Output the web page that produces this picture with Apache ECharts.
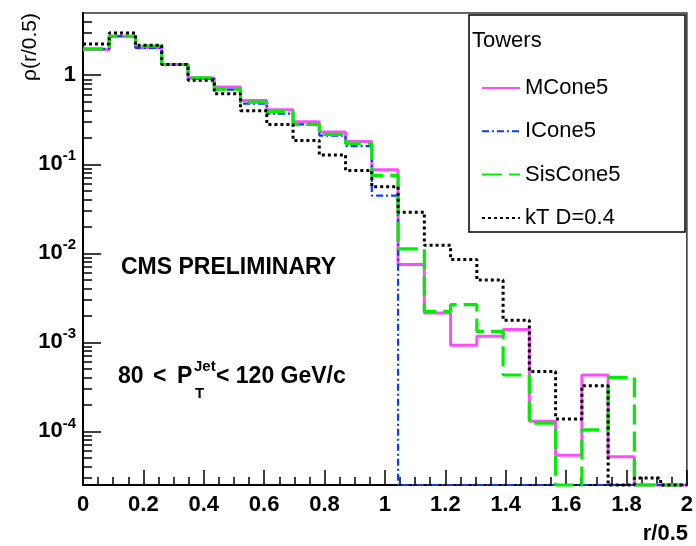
<!DOCTYPE html>
<html>
<head>
<meta charset="utf-8">
<script src="https://cdn.jsdelivr.net/npm/echarts@6/dist/echarts.min.js"></script>
<style>
html,body{margin:0;padding:0;background:#fff;}
#chart{width:696px;height:546px;}
</style>
</head>
<body>
<div id="chart"></div>
<script>
// ---- data (23 bins between r/0.5 = 0 and 2) ----
const xMin = 0, xMax = 2, binCount = 23;
const yMin = 2.5e-5, yMax = 5;
const seriesNames = ['MCone5', 'ICone5', 'SisCone5', 'kT D=0.4'];
const mcone5 = [1.95, 2.74, 2.03, 1.32, 0.93, 0.74, 0.52, 0.41, 0.30, 0.23, 0.18, 0.087, 0.0075, 0.00214, 0.00093, 0.00117, 0.00139, 0.00013, 0.000054, 0.00043, 0.000052, 0, 0];
const icone5 = [1.98, 2.74, 2.03, 1.32, 0.91, 0.69, 0.48, 0.37, 0.28, 0.21, 0.16, 0.0445, 0, 0, 0, 0, 0, 0, 0, 0, 0, 0, 0];
const siscone5 = [1.98, 2.74, 2.12, 1.32, 0.935, 0.70, 0.50, 0.39, 0.28, 0.217, 0.17, 0.075, 0.0112, 0.00223, 0.00265, 0.00133, 0.00043, 0.000124, 0, 0.000104, 0.000405, 0, 0];
const kt04 = [2.25, 2.99, 2.17, 1.32, 0.88, 0.62, 0.40, 0.28, 0.185, 0.127, 0.085, 0.056, 0.029, 0.0123, 0.0085, 0.005, 0.00177, 0.00047, 0.000138, 0.000325, 0, 0.00003, 0];
const yMajorTicks = [1e-4, 1e-3, 1e-2, 1e-1, 1];
const xTickInterval = 0.2;

// ---- build ----
const binWidth = (xMax - xMin) / binCount;
function histData(vals) {
  const d = vals.map((v, i) => [xMin + i * binWidth, v > 0 ? v : yMin]);
  const last = vals[vals.length - 1];
  d.push([xMax, last > 0 ? last : yMin]);
  return d;
}
const yMinorTicks = [];
for (let e = -5; e <= 0; e++) {
  for (let m = 2; m <= 9; m++) {
    const v = m * Math.pow(10, e);
    if (v > yMin && v < yMax) yMinorTicks.push(v);
  }
}

const FONT = 'Liberation Sans';
const chart = echarts.init(document.getElementById('chart'), null, {renderer: 'canvas'});

const styles = [
  {color: '#ff4cff', width: 3, type: 'solid'},
  {color: '#0a3cff', width: 2.2, type: [7, 3, 2, 3]},
  {color: '#00ee00', width: 3.2, type: [20, 7]},
  {color: '#000000', width: 3, type: [3, 3]}
];
const vals = [mcone5, icone5, siscone5, kt04];

const series = seriesNames.map((n, k) => ({
  name: n,
  type: 'line',
  step: 'end',
  data: histData(vals[k]),
  showSymbol: false,
  symbol: 'none',
  clip: false,
  lineStyle: styles[k],
  itemStyle: {color: styles[k].color},
  emphasis: {disabled: true},
  animation: false
}));

const B23 = 'bold 23px "Liberation Sans"';
const B15 = 'bold 15px "Liberation Sans"';

const option = {
  animation: false,
  backgroundColor: '#fff',
  grid: {left: 83, right: 8, top: 13, bottom: 61, show: true, borderColor: '#333', borderWidth: 1.5, backgroundColor: 'transparent'},
  xAxis: {
    type: 'value', min: xMin, max: xMax, interval: xTickInterval,
    axisLine: {show: true, lineStyle: {color: '#000', width: 2}},
    axisTick: {show: true, inside: true, length: 15, lineStyle: {color: '#000', width: 1.5}},
    minorTick: {show: true, splitNumber: 4, length: 8, lineStyle: {color: '#000', width: 1.5}},
    splitLine: {show: false},
    axisLabel: {
      margin: 9, color: '#000', fontSize: 22, fontWeight: 'bold', fontFamily: FONT,
      formatter: v => String(Math.round(v * 10) / 10)
    }
  },
  yAxis: [
    {
      type: 'log', logBase: 10, min: yMin, max: yMax, position: 'left',
      axisLine: {show: true, lineStyle: {color: '#000', width: 2}},
      axisTick: {show: true, inside: true, length: 18, customValues: yMajorTicks, lineStyle: {color: '#000', width: 1.5}},
      splitLine: {show: false},
      minorTick: {show: false},
      axisLabel: {
        customValues: yMajorTicks,
        margin: 7, color: '#000', fontFamily: FONT,
        formatter: v => {
          const e = Math.round(Math.log10(v));
          return e === 0 ? '{b|1}' : '{b|10}{s|' + e + '}';
        },
        rich: {
          b: {fontSize: 22, fontWeight: 'bold', fontFamily: FONT, color: '#000'},
          s: {fontSize: 15, fontWeight: 'bold', fontFamily: FONT, color: '#000', padding: [0, 0, 16, 0]}
        }
      }
    },
    {
      type: 'log', logBase: 10, min: yMin, max: yMax, position: 'left', offset: 0,
      axisLine: {show: false},
      axisTick: {show: true, inside: true, length: 9, customValues: yMinorTicks, lineStyle: {color: '#000', width: 1.5}},
      axisLabel: {show: false},
      splitLine: {show: false}
    }
  ],
  legend: {
    orient: 'vertical', left: 476, top: 72,
    itemWidth: 38, itemHeight: 22, itemGap: 21.3,
    data: seriesNames,
    selectedMode: false,
    itemStyle: {opacity: 0},
    textStyle: {fontSize: 22, fontFamily: FONT, color: '#000', lineHeight: 22}
  },
  graphic: [
    {type: 'rect', z: 10, shape: {x: 469, y: 15, width: 216, height: 217}, style: {fill: 'transparent', stroke: '#000', lineWidth: 1.5}},
    {type: 'text', z: 11, style: {x: 472, y: 41, text: 'Towers', font: '22px "Liberation Sans"', fill: '#000', verticalAlign: 'middle'}},
    {type: 'text', z: 11, style: {x: 121, y: 268, text: 'CMS PRELIMINARY', font: B23, fill: '#000', verticalAlign: 'middle'}},
    {type: 'text', z: 11, style: {x: 118, y: 377, text: '80', font: B23, fill: '#000', verticalAlign: 'middle'}},
    {type: 'text', z: 11, style: {x: 153, y: 377, text: '<', font: B23, fill: '#000', verticalAlign: 'middle'}},
    {type: 'text', z: 11, style: {x: 177, y: 377, text: 'P', font: B23, fill: '#000', verticalAlign: 'middle'}},
    {type: 'text', z: 11, style: {x: 195, y: 394, text: 'T', font: B15, fill: '#000', verticalAlign: 'middle'}},
    {type: 'text', z: 11, style: {x: 194, y: 367, text: 'Jet', font: B15, fill: '#000', verticalAlign: 'middle'}},
    {type: 'text', z: 11, style: {x: 216, y: 377, text: '< 120 GeV/c', font: B23, fill: '#000', verticalAlign: 'middle'}},
    {type: 'text', z: 11, rotation: Math.PI / 2, x: 30, y: 13, style: {x: 0, y: 0, text: 'ρ(r/0.5)', font: '21px "Liberation Sans"', fill: '#000', align: 'right', verticalAlign: 'middle'}},
    {type: 'text', z: 11, style: {x: 688, y: 534, text: 'r/0.5', font: 'bold 22px "Liberation Sans"', fill: '#000', align: 'right', verticalAlign: 'middle'}}
  ],
  series: series
};
chart.setOption(option);
</script>
</body>
</html>
